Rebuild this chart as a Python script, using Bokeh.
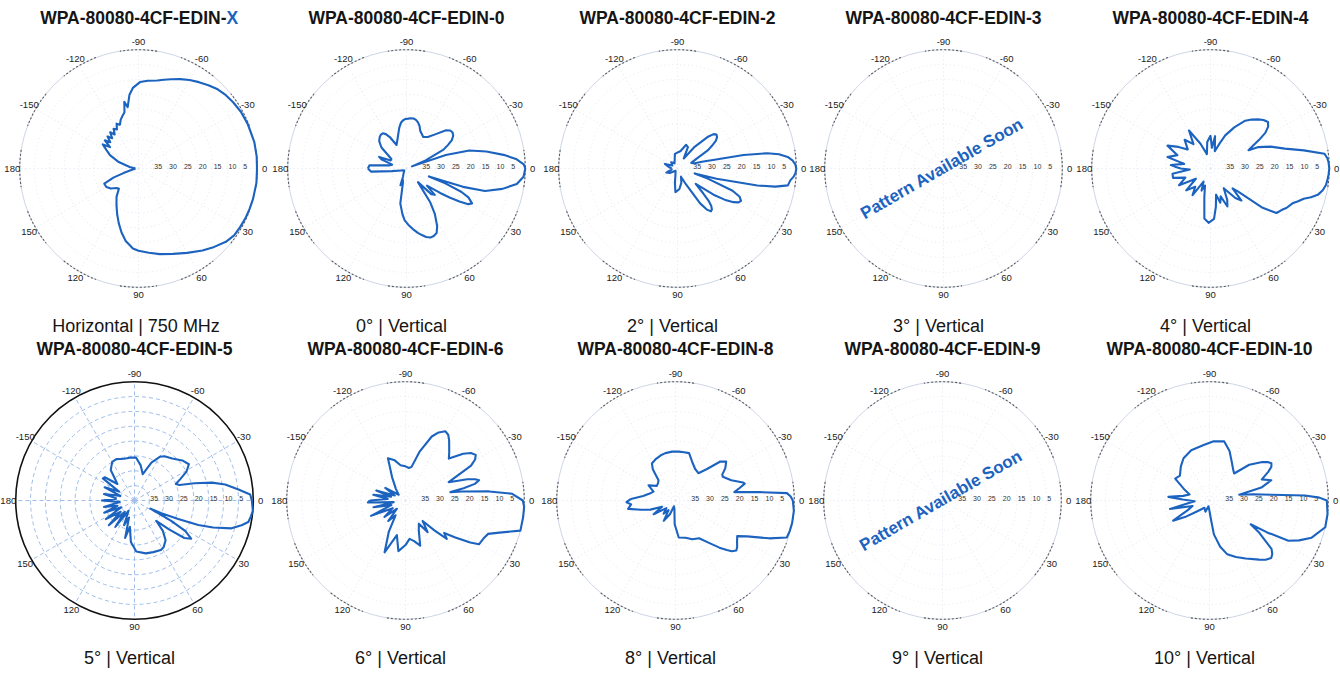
import numpy as np
from bokeh.plotting import figure
from bokeh.layouts import row, column
from bokeh.models import Range1d
from bokeh.core.properties import value
from bokeh.embed import file_html
from bokeh.resources import INLINE

# ---------------- data ----------------
titles = ["WPA-80080-4CF-EDIN-X", "WPA-80080-4CF-EDIN-0", "WPA-80080-4CF-EDIN-2",
          "WPA-80080-4CF-EDIN-3", "WPA-80080-4CF-EDIN-4", "WPA-80080-4CF-EDIN-5",
          "WPA-80080-4CF-EDIN-6", "WPA-80080-4CF-EDIN-8", "WPA-80080-4CF-EDIN-9",
          "WPA-80080-4CF-EDIN-10"]
subtitles = ["Horizontal |  750 MHz", "0°  |  Vertical", "2°  |  Vertical", "3°  |  Vertical",
             "4°  |  Vertical", "5°  |  Vertical", "6°  |  Vertical", "8°  |  Vertical",
             "9°  |  Vertical", "10°  |  Vertical"]
angle_ticks = [-150, -120, -90, -60, -30, 0, 30, 60, 90, 120, 150, 180]
ring_ticks = [35, 30, 25, 20, 15, 10, 5]
floor_db = 40
soon_text = "Pattern Available Soon"

# angle (deg, 0 = right, positive = downward) and attenuation (dB below peak)
ang_x = [-180, -170, -162, -155, -150, -146, -143, -140, -137, -134, -131, -128, -125, -122,
         -119, -116, -113, -110, -107, -104, -102, -100, -97, -94, -89, -84, -78, -74, -70, -65,
         -60, -55, -50, -45, -40, -35, -29, -22, -13, -6, 0, 7, 15, 20, 25, 30, 35, 40, 46, 52,
         60, 68, 76, 83, 90, 94, 100, 105, 110, 115, 121, 128, 134, 138, 144, 150, 156, 160,
         163, 170]
att_x = [39, 37, 33, 29.4, 27.5, 25.5, 28, 25.2, 27, 25, 26.5, 24.5, 26, 24.2,
         25, 23.2, 24, 22.5, 21.5, 20.5, 17, 19, 15, 12.8, 10.9, 10.3, 9.7, 8.9, 8, 6.8,
         5.6, 4.5, 3.4, 2.3, 1.6, 1.1, 0.6, 0.3, 0, 0, 0.1, 0, 0.1, 0.2, 0.3, 0.5, 0.7, 1.6, 3.3, 5,
         7.2, 9, 10.3, 11.4, 12.3, 13, 15.2, 17.8, 20.5, 23, 25.6, 28, 30.5, 30.2, 28.5, 27.5, 27.4,
         31, 34.7, 38]

ang_0 = [-180, -175, -170, -165, -160, -157, -153, -148, -140, -135, -130, -127, -124, -121,
         -118, -113, -108, -100, -97, -94, -91, -88, -85, -82, -79, -76, -73, -70, -62, -56, -50,
         -44, -41, -38, -35, -32, -29.5, -27, -23, -21, -19, -16, -12, -8, -5, -2, 0, 4, 8, 12,
         16, 18, 19.5, 21, 23, 25, 28, 30, 32, 34, 36, 40, 43, 46, 50, 55, 58, 62, 65, 68, 71, 74,
         77, 80, 84, 88, 92, 95, 100, 104, 108, 110, 113, 120, 140, 160, 170, 175]
att_0 = [27, 27.5, 34, 35, 31, 30, 34, 34, 29, 27, 26, 25.7, 25.7, 26.5,
         28, 31.4, 30, 26, 24.5, 23.7, 23.3, 23.2, 23, 23, 23.3, 24, 25, 26.5, 28, 27.2, 25,
         21.5, 20.5, 20.3, 20.8, 22, 24, 26, 33, 38, 26, 18, 12.5, 7, 3, 0.5, 0, 0.5, 2.5, 7,
         12.5, 20, 32, 26, 20, 17, 15, 16, 19, 22.5, 26, 31, 27, 28, 34, 26, 22, 18, 16, 15.5, 15.4,
         16, 17, 18, 19.5, 21, 22.5, 24.5, 28, 35, 36, 34, 37, 38, 39, 38, 35, 28]

ang_2 = [-180, -170, -160, -150, -135, -120, -100, -80, -70, -64, -58, -52, -46, -43.5, -41,
         -38.5, -36, -33.5, -31, -27, -22, -17, -15, -13.4, -11.6, -9.6, -8, -6, -4, -2, 0, 2, 4,
         6, 8.7, 10.5, 12, 14.6, 16, 18, 22, 24.5, 27, 29, 31, 33.5, 36, 40, 44, 46, 48, 50, 52,
         54.5, 57, 62, 67, 75, 85, 95, 100, 110, 130, 150, 160, 170]
att_2 = [38, 37, 35.5, 38, 37, 38, 35, 34, 31.5, 32, 36, 31, 25, 23.2, 22.6,
         23, 24, 26, 28, 33, 35, 34, 31, 27.7, 17.3, 9.3, 5.5, 2.7, 1.2, 0.3, 0, 0.2, 0.8,
         1.8, 2.4, 6.5, 12.5, 26.4, 34, 30, 20, 17, 16, 16.5, 18, 21, 25, 32, 28, 25, 23, 22, 21.7,
         23, 26, 34, 37, 35, 33, 32, 35, 38, 39, 37, 36, 38]

ang_4 = [-177, -175, -170, -165, -158, -152, -146, -140, -132, -125, -119.5, -112, -104, -97,
         -90, -86, -82, -76, -70, -66, -60, -54, -50, -46, -42.5, -39, -36, -33, -30.5, -28,
         -25.6, -24, -20, -15, -11, -7.4, -5, -3, 0, 3, 5, 8, 11, 13.8, 16, 18, 20.5, 23, 27.5,
         30, 34, 37, 40, 42, 46, 50, 56, 62, 66, 70, 74, 78, 82, 86, 92, 97, 102, 108, 112, 118,
         124, 130, 138, 145, 152, 160, 166, 172, 177, 180]
att_4 = [28, 26.6, 31, 25, 28, 23.6, 27, 30, 27, 30, 25.3, 31, 35, 31,
         29, 33, 29, 34, 31, 27.8, 24, 20.1, 18.5, 17, 15.8, 15.1, 16, 18, 21, 24,
         25.8, 22.3, 18.5, 14.1, 8, 1.3, 0.5, 0.2, 0, 0.2, 0.4, 0.7, 1.5, 2.8, 4.8, 7, 8.5, 10, 11.2,
         12.2, 13.2, 18, 28, 30, 25, 27, 32, 28, 26, 30, 28, 31, 27, 23, 21.7, 23, 30, 34, 32, 35,
         29.2, 32, 29, 34, 28, 31, 27, 27.1, 33, 30]

ang_5 = [-174, -168, -162, -156, -150, -145, -142, -136, -128, -120, -113.7, -104, -96, -88,
         -80, -72.6, -66, -60, -56, -48, -40, -33.7, -29, -25, -21.8, -19, -16, -13, -10, -6, -3,
         0, 5, 8, 10.7, 13, 16, 19, 21, 23, 25.5, 27, 29, 31, 34, 37, 40, 43, 47, 52, 58, 62, 70,
         78, 88, 95, 100, 104, 108, 113, 120, 126, 131, 136, 141, 147, 153, 158, 163, 168, 174, 180]
att_5 = [34, 29.5, 35, 29, 34, 27, 27.3, 32, 27, 25, 24.8, 25.5, 25.5, 25.5,
         28, 30.7, 26, 23, 22, 21, 19, 18, 20, 23, 25, 24, 19, 13.2, 9, 4.8, 1,
         0.5, 0, 0.5, 1, 3, 6, 12, 17, 24, 30, 34, 26, 20, 17, 19, 25, 30, 26, 23, 21.5, 21.1, 21.5,
         21.8, 22.8, 26, 31, 27, 34, 31, 36, 29, 35, 28, 34, 28.5, 35, 29, 34, 29.5, 35, 29]

ang_6 = [-180, -175, -170, -165, -161, -155, -148, -140, -130, -120, -112.6, -105, -98, -90,
         -84, -79.8, -74, -67.7, -64, -60, -57, -54, -48, -44, -39, -36, -33, -30.5, -28, -23,
         -19, -17, -15.4, -13.5, -12, -10.6, -9.1, -6.2, -3.6, 0, 3, 8, 14.7, 18.9, 22, 25.3,
         30.8, 33, 36.6, 40, 43, 46, 50, 55, 60, 66, 72, 78, 84, 90, 98, 104, 112, 118, 124, 130,
         136, 142, 149, 156, 162, 168, 172, 177]
att_6 = [28, 34, 29, 35, 29.6, 36, 32, 37, 35, 31, 24.6, 26, 28, 28.5,
         29, 28.5, 23, 16.7, 14.5, 13.1, 13.6, 15, 18, 19.7, 15, 12.8, 11.8, 12.8, 15, 24.2,
         18, 15.5, 14.3, 16, 20, 24.6, 20.7, 11.7, 4, 0.5, 0, 0, 0, 6.6, 10, 10.7,
         11.2, 14, 19.1, 23, 21, 26, 31, 27, 31, 29, 24, 26, 27, 25, 22.8, 28, 21.2, 28, 34, 31,
         36, 31, 35, 27.3, 35, 29, 36, 27.3]

ang_8 = [-178, -172, -165, -158, -150.6, -142, -135, -130, -126, -122.5, -115, -108, -102, -94,
         -86, -80, -74, -66, -58, -50, -45, -41, -37.5, -33, -29, -26.6, -20, -15, -13.7, -11,
         -8.1, -5.7, -3.8, -2, 0, 5, 11, 15, 18.4, 22, 26.6, 30, 34, 37, 39.4, 42, 44, 47, 52, 58,
         66.5, 75, 85, 92, 97, 105, 112, 120, 126, 132, 140, 148, 155, 160, 165, 170, 175, 178]
att_8 = [25, 29, 31, 32, 29.6, 32, 31.7, 31.1, 27, 25.2, 24.5, 24, 23.7, 23.5,
         23.5, 23.5, 23.4, 26, 27.5, 28, 25, 20, 18.5, 20, 22, 22.2, 20, 16.5, 16, 18,
         20, 11.5, 2.4, 1.2, 0.5, 0, 0, 0.2, 0.5, 6, 13, 16, 15, 14, 13.5, 14.5, 16, 18.3, 22, 25,
         25.8, 27, 27.5, 32, 37, 38, 35, 32.1, 36, 34, 36, 31.3, 35, 31, 28, 23.8, 25, 23.5]

ang_10 = [-178, -175, -170, -163, -157, -147.5, -140, -130, -121.6, -110, -96, -86, -76, -68,
          -60, -52, -47.6, -42, -36, -33.5, -31, -28.5, -26, -22, -18.2, -14, -11, -8, -5.3, -3,
          -1.5, 0, 6.5, 13, 20, 24, 27, 29, 30, 33, 38, 40.5, 43, 46.5, 50, 58, 65, 71.7, 77, 82.6,
          86, 92, 100, 110, 125, 140, 146, 151, 156, 162, 168, 173, 177]
att_10 = [31, 26.1, 31, 33, 31, 26.3, 27, 25, 23.3, 22, 21.2, 20, 19.5, 22,
          25, 27, 27.7, 22, 18, 16.5, 15.7, 16.3, 18, 21, 18.1, 22, 29.8, 25, 19.1, 7.8,
          3, 0.5, 0, 0, 3.4, 7, 10.2, 18, 24, 20, 13.5, 12.2, 11.6, 12.5, 14, 17, 19, 20.9, 24, 28.5,
          34, 37, 38, 36, 37, 34, 30, 26, 32, 34, 26.4, 33, 35]

patterns = {0: (ang_x, att_x), 1: (ang_0, att_0), 2: (ang_2, att_2), 4: (ang_4, att_4),
            5: (ang_5, att_5), 6: (ang_6, att_6), 7: (ang_8, att_8), 9: (ang_10, att_10)}
soon_panels = [3, 8]
grid_panel = 5

# ---------------- styling / layout ----------------
BLUE = "#1c63bf"
TXT = "#151515"
FONT = value("Liberation Sans")
S = 2.97                       # pixels per dB
COL_W = [270, 268, 270, 266, 266]
ROW_CX = [[138, 136, 139, 135, 136], [134, 135, 137, 134, 135]]
ROW_H = [338, 337]
ROW_CY = [168, 162]
ROW_TY = [17, 10]
ROW_SY = [325, 319]


def polar_xy(ang, rad):
    th = np.radians(np.asarray(ang, dtype=float))
    rad = np.asarray(rad, dtype=float)
    return rad * np.cos(th), -rad * np.sin(th)


def make_panel(i):
    r_i, c_i = i // 5, i % 5
    W, H = COL_W[c_i], ROW_H[r_i]
    cx, cy = ROW_CX[r_i][c_i], ROW_CY[r_i]
    p = figure(width=W, height=H, output_backend="svg", toolbar_location=None,
               x_range=Range1d(-cx / S, (W - cx) / S),
               y_range=Range1d(-(H - cy) / S, cy / S),
               x_axis_type=None, y_axis_type=None, min_border=0,
               outline_line_color=None, background_fill_color="white",
               border_fill_color="white")
    p.grid.visible = False

    rings = [floor_db - t for t in ring_ticks]
    spoke_angles = list(range(0, 360, 30))
    sx, sy = polar_xy(spoke_angles, [floor_db] * len(spoke_angles))
    if i == grid_panel:
        p.segment(x0=[0] * len(sx), y0=[0] * len(sx), x1=sx, y1=sy,
                  line_color="#9fbde8", line_dash="4 3", line_width=1)
        p.circle(x=[0] * len(rings), y=[0] * len(rings), radius=rings, fill_color=None,
                 line_color="#9fbde8", line_dash="4 3", line_width=1)
        p.circle(x=[0], y=[0], radius=[floor_db], fill_color=None, line_color="#111111",
                 line_width=1.6)
    else:
        p.segment(x0=[0] * len(sx), y0=[0] * len(sx), x1=sx, y1=sy,
                  line_color="#dfe5f0", line_dash="1 3", line_width=1)
        p.circle(x=[0] * len(rings), y=[0] * len(rings), radius=rings, fill_color=None,
                 line_color="#e3e8f1", line_dash="1 3", line_width=1)
        p.circle(x=[0], y=[0], radius=[floor_db], fill_color=None, line_color="#cdd5e6",
                 line_width=1)
        starts = [np.radians(-(a + 9)) for a in angle_ticks]
        ends = [np.radians(-(a - 9)) for a in angle_ticks]
        p.arc(x=[0] * len(starts), y=[0] * len(starts), radius=[floor_db] * len(starts),
              start_angle=starts, end_angle=ends, direction="anticlock",
              line_color="#5a5a5a", line_dash="2 2", line_width=1.1)

    # angle labels
    lx, ly = polar_xy(angle_ticks, [42.5] * len(angle_ticks))
    p.text(x=lx, y=ly, text=[str(a) for a in angle_ticks], text_align="center",
           text_baseline="middle", text_font=FONT, text_font_size="9.5px",
           text_color="#222222")
    # ring labels
    p.text(x=[floor_db - t + 0.3 for t in ring_ticks], y=[0.6] * len(ring_ticks),
           text=[str(t) for t in ring_ticks], text_align="left", text_baseline="middle",
           text_font=FONT, text_font_size="7px", text_color="#333333")

    # pattern
    if i in patterns:
        ang, att = patterns[i]
        rad = [floor_db - a for a in att]
        x, y = polar_xy(list(ang) + [ang[0]], rad + [rad[0]])
        p.line(x, y, line_color=BLUE, line_width=2.1, line_join="round")
    if i in soon_panels:
        p.text(x=[-0.5], y=[0], text=[soon_text], angle=[np.radians(30)],
               text_align="center", text_baseline="middle", text_font=FONT,
               text_font_style="bold", text_font_size="17px", text_color=BLUE)

    # title
    ty = (cy - ROW_TY[r_i]) / S
    t = titles[i]
    if i == 0:
        head, tail = t[:-1], t[-1]
        x_split = 88 / S
        p.text(x=[x_split], y=[ty], text=[head], text_align="right", text_baseline="middle",
               text_font=FONT, text_font_style="bold", text_font_size="17.5px",
               text_color=TXT)
        p.text(x=[x_split], y=[ty], text=[tail], text_align="left", text_baseline="middle",
               text_font=FONT, text_font_style="bold", text_font_size="17.5px",
               text_color=BLUE)
    else:
        p.text(x=[0], y=[ty], text=[t], text_align="center", text_baseline="middle",
               text_font=FONT, text_font_style="bold", text_font_size="17.5px",
               text_color=TXT)
    # subtitle
    p.text(x=[0], y=[(cy - ROW_SY[r_i]) / S], text=[subtitles[i]], text_align="center",
           text_baseline="middle", text_font=FONT, text_font_size="18px", text_color=TXT)
    return p


panels = [make_panel(i) for i in range(10)]
layout = column(row(*panels[:5]), row(*panels[5:]))

open("out.html", "w").write(file_html(layout, INLINE))
